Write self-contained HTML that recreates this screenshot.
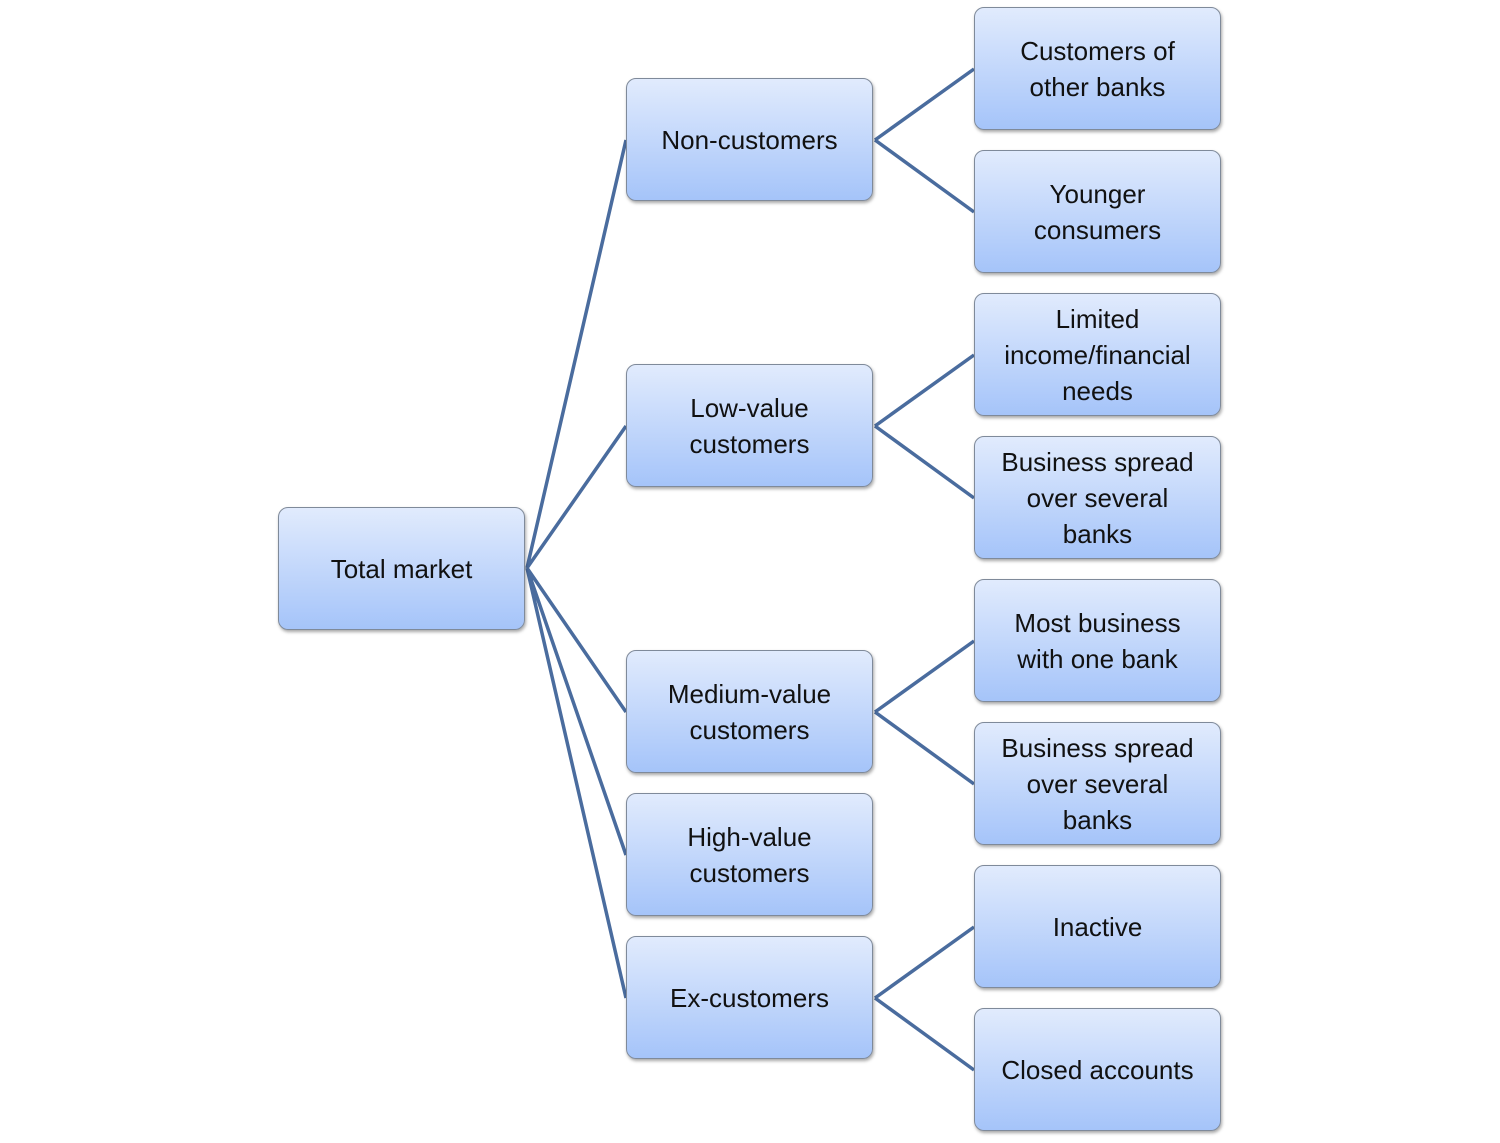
<!DOCTYPE html>
<html><head><style>
body{margin:0;width:1500px;height:1143px;background:#fff;position:relative;overflow:hidden;font-family:"Liberation Sans",sans-serif}
.b{position:absolute;width:247px;height:123px;box-sizing:border-box;border:1px solid #7f8a9a;border-radius:10px;background:linear-gradient(#e1ebfd,#a5c4f9);box-shadow:1px 2px 3px rgba(0,0,0,.35);display:flex;align-items:center;justify-content:center;text-align:center;font-size:26px;line-height:36px;color:#111}
svg{position:absolute;left:0;top:0}
</style></head><body>
<svg width="1500" height="1143"><g stroke="#4a6c9e" stroke-width="3.5" fill="none">
<path d="M527 568L626 140M527 568L626 426M527 568L626 712M527 568L626 855M527 568L626 998"/>
<path d="M875 140L974 69M875 140L974 212M875 426L974 355M875 426L974 498M875 712L974 641M875 712L974 784M875 998L974 927M875 998L974 1070"/>
</g></svg>
<div class="b" style="left:278px;top:507px">Total market</div>
<div class="b" style="left:626px;top:78px">Non-customers</div>
<div class="b" style="left:626px;top:364px">Low-value<br>customers</div>
<div class="b" style="left:626px;top:650px">Medium-value<br>customers</div>
<div class="b" style="left:626px;top:793px">High-value<br>customers</div>
<div class="b" style="left:626px;top:936px">Ex-customers</div>
<div class="b" style="left:974px;top:7px">Customers of<br>other banks</div>
<div class="b" style="left:974px;top:150px">Younger<br>consumers</div>
<div class="b" style="left:974px;top:293px">Limited<br>income/financial<br>needs</div>
<div class="b" style="left:974px;top:436px">Business spread<br>over several<br>banks</div>
<div class="b" style="left:974px;top:579px">Most business<br>with one bank</div>
<div class="b" style="left:974px;top:722px">Business spread<br>over several<br>banks</div>
<div class="b" style="left:974px;top:865px">Inactive</div>
<div class="b" style="left:974px;top:1008px">Closed accounts</div>
</body></html>
